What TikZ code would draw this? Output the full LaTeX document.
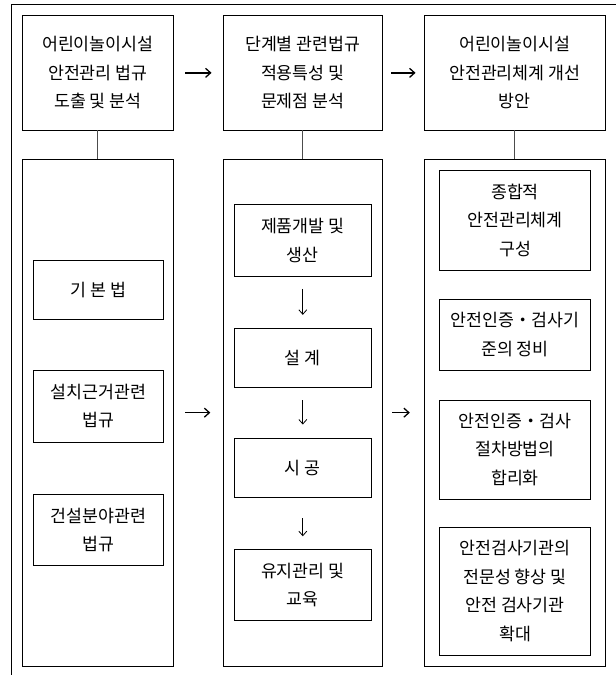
\documentclass[tikz,border=0pt]{standalone}
\usepackage{fontspec}
\newfontfamily\kr{Noto Sans CJK KR}
\usetikzlibrary{arrows.meta}
\begin{document}
\begin{tikzpicture}[x=1pt,y=-1pt,
  box/.style={draw, line width=0.9pt, align=center, inner sep=0pt,
    font=\kr\fontsize{17.3}{28.5}\selectfont},
  conn/.style={draw=black!70, line width=1.1pt},
  harrow/.style={line width=1.3pt, -{Straight Barb[length=5pt,width=9pt]}},
  varrow/.style={line width=0.8pt, -{Straight Barb[length=4.5pt,width=8pt]}}]
\useasboundingbox (0,0) rectangle (616,675);
% outer frame (top and left only)
\coordinate (frTR) at (616,4);
\coordinate (frTL) at (11.7,4);
\coordinate (frBL) at (11.7,675);
\draw[line width=1pt] (frTR) -- (frTL) -- (frBL);
% top boxes
\node[box, minimum width=151pt, minimum height=114.3pt] (t1) at (97.8,72.85) {어린이놀이시설\\안전관리 법규\\도출 및 분석};
\node[box, minimum width=159pt, minimum height=114.3pt] (t2) at (302.8,72.85) {단계별 관련법규\\적용특성 및\\문제점 분석};
\node[box, minimum width=181pt, minimum height=114.3pt] (t3) at (514.8,72.85) {어린이놀이시설\\안전관리체계 개선\\방안};
% lower outer boxes
\node[box, minimum width=151pt, minimum height=506.7pt] (l1) at (97.8,412.65) {};
\node[box, minimum width=159pt, minimum height=506.7pt] (l2) at (302.8,412.65) {};
\node[box, minimum width=181pt, minimum height=506.7pt] (l3) at (514.8,412.65) {};
% column 1 inner
\node[box, minimum width=129.3pt, minimum height=59.3pt] (a1) at (98.35,289.65) {기 본 법};
\node[box, minimum width=129.3pt, minimum height=72.3pt] (a2) at (98.35,406.15) {설치근거관련\\법규};
\node[box, minimum width=129.3pt, minimum height=71.7pt] (a3) at (98.35,529.85) {건설분야관련\\법규};
% column 2 inner
\node[box, minimum width=137pt, minimum height=71.6pt] (b1) at (302.8,240.5) {제품개발 및\\생산};
\node[box, minimum width=137pt, minimum height=59pt] (b2) at (302.8,357.8) {설 계};
\node[box, minimum width=137pt, minimum height=59pt] (b3) at (302.8,467.8) {시 공};
\node[box, minimum width=137pt, minimum height=71.4pt] (b4) at (302.8,585) {유지관리 및\\교육};
% column 3 inner
\node[box, minimum width=151.4pt, minimum height=99.3pt] (c1) at (515,220.35) {종합적\\안전관리체계\\구성};
\node[box, minimum width=151.4pt, minimum height=71pt] (c2) at (515,334.5) {안전인증・검사기\\준의 정비};
\node[box, minimum width=151.4pt, minimum height=99pt] (c3) at (515,449.5) {안전인증・검사\\절차방법의\\합리화};
\node[box, minimum width=151.4pt, minimum height=127.7pt] (c4) at (515,591.15) {안전검사기관의\\전문성 향상 및\\안전 검사기관\\확대};
% connectors top to lower
\draw[conn] (t1) -- (l1);
\draw[conn] (t2) -- (l2);
\draw[conn] (t3) -- (l3);
% horizontal arrows
\draw[harrow, shorten <=11.7pt, shorten >=11.3pt] (t1) -- (t2);
\draw[harrow, shorten <=8.7pt, shorten >=8.3pt] (t2) -- (t3);
\draw[harrow, shorten <=11.7pt, shorten >=12.5pt] (l1) -- (l2);
\draw[harrow, shorten <=9.5pt, shorten >=14pt] (l2) -- (l3);
% vertical arrows
\draw[varrow, shorten <=12pt, shorten >=13pt] (b1) -- (b2);
\draw[varrow, shorten <=12.7pt, shorten >=13.3pt] (b2) -- (b3);
\draw[varrow, shorten <=20.7pt, shorten >=12.6pt] (b3) -- (b4);
\end{tikzpicture}
\end{document}
